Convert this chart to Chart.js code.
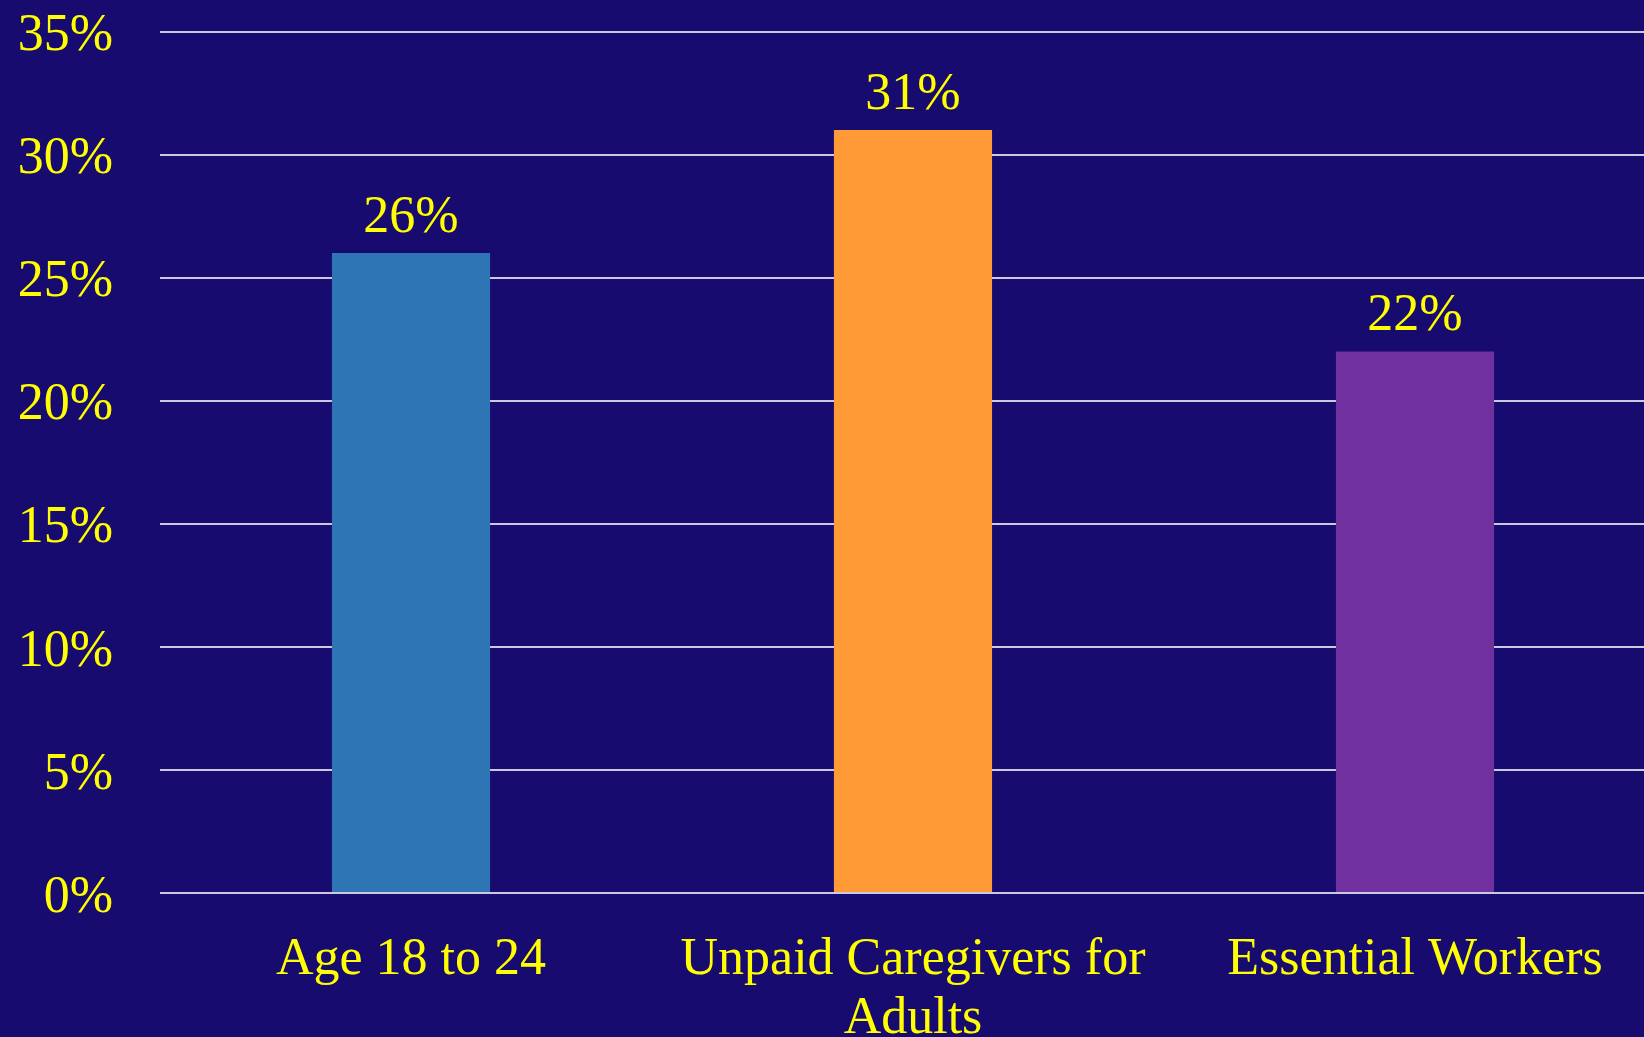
<!DOCTYPE html>
<html>
<head>
<meta charset="utf-8">
<script src="https://cdn.jsdelivr.net/npm/chart.js@4"></script>
<style>
  html, body { margin: 0; padding: 0; overflow: hidden; background: #170b6f; }
  #wrap { position: relative; width: 1666px; height: 1044px; }
</style>
</head>
<body>
<div id="wrap"><canvas id="chart"></canvas></div>
<script>
const categories = ["Age 18 to 24", ["Unpaid Caregivers for", "Adults"], "Essential Workers"];
const shares = [0.26, 0.31, 0.22];
const barColors = ["#2e75b6", "#ff9a36", "#7030a0"];
const yTicks = [0, 0.05, 0.10, 0.15, 0.20, 0.25, 0.30, 0.35];

const yellow = "#ffff00";
const serif = "'Liberation Serif', 'Times New Roman', serif";

const pct = v => Math.round(v * 100) + "%";

// value labels above each bar
const barValueLabels = {
  id: "barValueLabels",
  afterDatasetsDraw(chart) {
    const ctx = chart.ctx;
    const meta = chart.getDatasetMeta(0);
    ctx.save();
    ctx.font = "52px " + serif;
    ctx.fillStyle = yellow;
    ctx.textAlign = "center";
    ctx.textBaseline = "alphabetic";
    meta.data.forEach((bar, i) => {
      ctx.fillText(pct(shares[i]), bar.x, bar.y - 21);
    });
    ctx.restore();
  }
};

new Chart(document.getElementById("chart"), {
  type: "bar",
  data: {
    labels: categories,
    datasets: [
      {
        data: shares,
        backgroundColor: barColors,
        borderWidth: 0,
        categoryPercentage: 1,
        barPercentage: 0.315
      }
    ]
  },
  options: {
    responsive: true,
    maintainAspectRatio: false,
    animation: false,
    layout: { padding: { top: 31.5, left: 0, right: 0, bottom: 0 } },
    plugins: {
      legend: { display: false },
      tooltip: { enabled: false }
    },
    scales: {
      x: {
        grid: { display: false },
        border: { display: false },
        ticks: {
          color: yellow,
          font: { family: serif, size: 52, lineHeight: 1.13 },
          padding: 30,
          maxRotation: 0,
          autoSkip: false
        },
        afterFit: s => { s.height = 151; }
      },
      y: {
        min: 0,
        max: 0.35,
        afterBuildTicks: s => { s.ticks = yTicks.map(v => ({ value: v })); },
        grid: { color: "#cdc8e2", lineWidth: 2, drawTicks: false },
        border: { display: false },
        ticks: {
          color: yellow,
          font: { family: serif, size: 52, lineHeight: 1.2 },
          padding: 47,
          labelOffset: 5,
          callback: v => pct(v)
        },
        // fixed axis width; the top label may overhang the canvas edge
        afterFit: s => {
          s.width = 160;
          s.paddingTop = 0;
          s.paddingBottom = 0;
        }
      }
    }
  },
  plugins: [barValueLabels]
});
</script>
</body>
</html>
